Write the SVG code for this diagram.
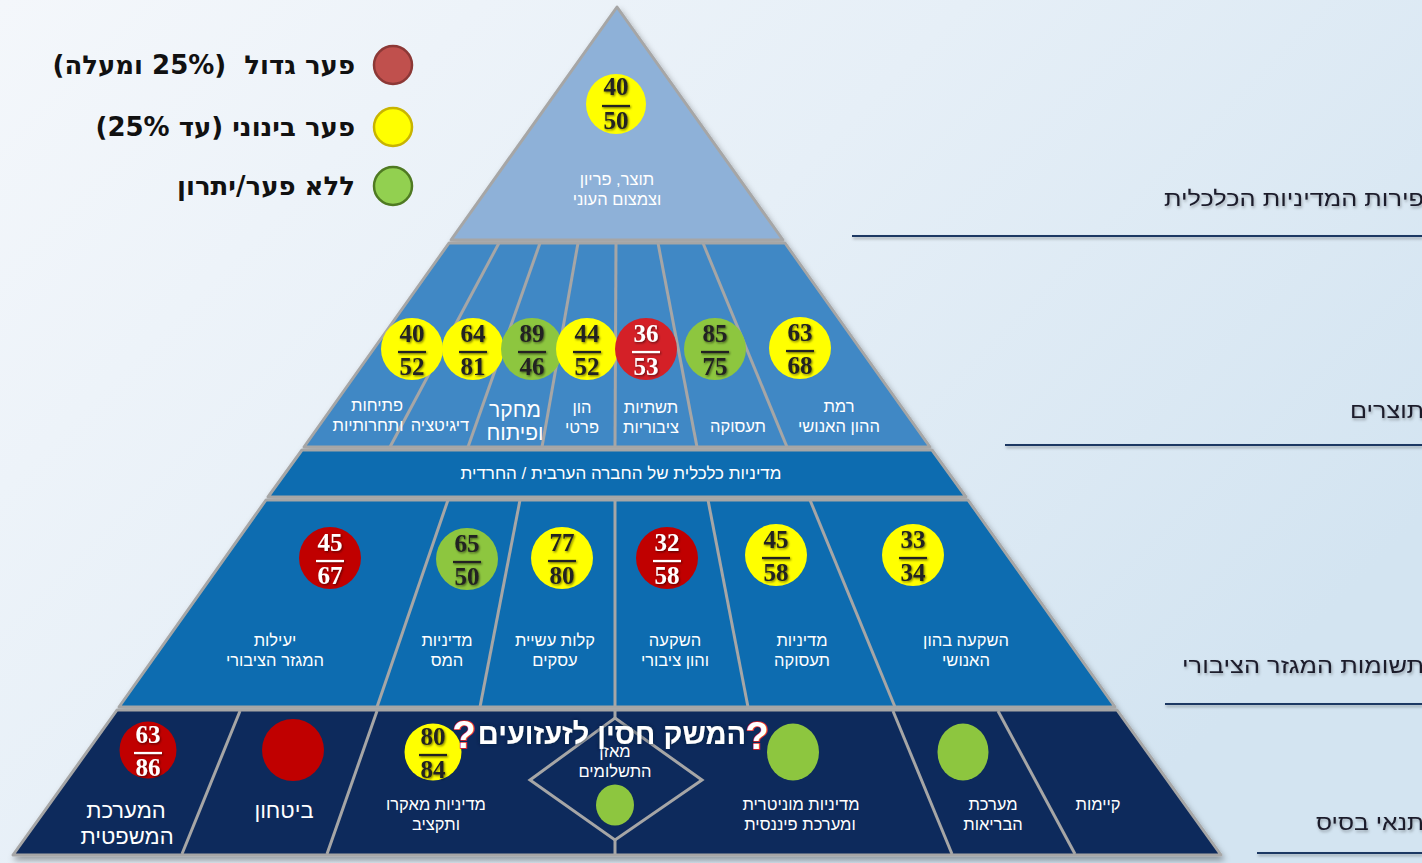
<svg xmlns="http://www.w3.org/2000/svg" width="1422" height="863" viewBox="0 0 1422 863">
<defs>
<linearGradient id="bg" x1="0" y1="0" x2="1" y2="0.6">
<stop offset="0" stop-color="#f4f7fb"/>
<stop offset="0.5" stop-color="#e6eff7"/>
<stop offset="1" stop-color="#d3e4f1"/>
</linearGradient>
<filter id="ts" x="-20%" y="-20%" width="140%" height="140%">
<feDropShadow dx="1" dy="1.2" stdDeviation="0.8" flood-color="#000" flood-opacity="0.55"/>
</filter>
<filter id="ls" x="-10%" y="-10%" width="120%" height="140%">
<feDropShadow dx="1" dy="2" stdDeviation="1.5" flood-color="#000" flood-opacity="0.3"/>
</filter>
<filter id="ps" x="-5%" y="-5%" width="110%" height="110%">
<feDropShadow dx="2" dy="4" stdDeviation="3" flood-color="#000" flood-opacity="0.35"/>
</filter>
<filter id="glow" x="-10%" y="-30%" width="120%" height="160%">
<feDropShadow dx="0" dy="0" stdDeviation="2" flood-color="#0a1a3a" flood-opacity="0.9"/>
</filter>
<style>
.lay{stroke:#a6a6a6;stroke-width:3;stroke-linejoin:round}
.div{stroke:#a6a6a6;stroke-width:3;fill:none}
.lbl{font-family:"Liberation Sans","DejaVu Sans",sans-serif;font-size:16.5px;fill:#fff;text-anchor:middle}
.big{font-size:21px}
.num{font-family:"Liberation Serif","DejaVu Serif",serif;font-weight:bold;font-size:25px;fill:#222;text-anchor:middle}
.w{fill:#fff}
.fl{stroke:#222;stroke-width:2.2}
.flw{stroke:#fff;stroke-width:2.2}
.yel{fill:#ffff00}
.grn{fill:#8dc63f}
.red{fill:#d42027}
.dred{fill:#c00000}
.leg{font-family:"DejaVu Sans","Liberation Sans",sans-serif;font-weight:bold;font-size:26px;fill:#111;white-space:pre}
.side{font-family:"Liberation Sans","DejaVu Sans",sans-serif;font-size:21px;fill:#1a1a2a}
.hl{stroke:#1f3864;stroke-width:2}
.q{font-family:"Liberation Sans","DejaVu Sans",sans-serif;font-weight:bold;font-size:38px;fill:#fff;stroke:#e02020;stroke-width:1.6;paint-order:stroke;text-anchor:middle}
</style>
</defs>
<rect width="1422" height="863" fill="url(#bg)"/>

<g id="legend">
<circle cx="393" cy="65" r="19" fill="#c0504d" stroke="#8c3836" stroke-width="2.5"/>
<circle cx="393" cy="127" r="19" fill="#ffff00" stroke="#c8b400" stroke-width="2.5"/>
<circle cx="393" cy="186" r="19" fill="#92d050" stroke="#4f7a22" stroke-width="2.5"/>
<text class="leg" x="355" y="74" direction="rtl" text-anchor="start">פער גדול  (25% ומעלה)</text>
<text class="leg" x="355" y="136" direction="rtl" text-anchor="start">פער בינוני (עד 25%)</text>
<text class="leg" x="355" y="195" direction="rtl" text-anchor="start">ללא פער/יתרון</text>
</g>

<g id="side-labels">
<g filter="url(#ls)">
<line class="hl" x1="852" y1="236" x2="1422" y2="236"/>
<line class="hl" x1="1005" y1="445" x2="1422" y2="445"/>
<line class="hl" x1="1165" y1="704" x2="1422" y2="704"/>
<line class="hl" x1="1257" y1="853" x2="1422" y2="853"/>
</g>
<g filter="url(#ls)">
<text class="side" x="1424" y="206" direction="rtl" text-anchor="start" textLength="260" lengthAdjust="spacingAndGlyphs">פירות המדיניות הכלכלית</text>
<text class="side" x="1424" y="418" direction="rtl" text-anchor="start" textLength="74" lengthAdjust="spacingAndGlyphs">תוצרים</text>
<text class="side" x="1424" y="673" direction="rtl" text-anchor="start" textLength="242" lengthAdjust="spacingAndGlyphs">תשומות המגזר הציבורי</text>
<text class="side" x="1424" y="830" direction="rtl" text-anchor="start" textLength="108" lengthAdjust="spacingAndGlyphs">תנאי בסיס</text>
</g>
</g>

<g id="pyramid-layers" filter="url(#ps)">
<polygon id="layer-top" class="lay" fill="#8eb1d8" points="617,7 783,240 451,240"/>
<polygon id="layer-products" class="lay" fill="#3f88c5" points="449,243 785,243 930,447 304,447"/>
<polygon id="layer-arab" class="lay" fill="#0a6cb0" points="302,450 932,450 966,497 268,497"/>
<polygon id="layer-inputs" class="lay" fill="#0a6cb0" points="266,500 968,500 1115,707 119,707"/>
<polygon id="layer-base" class="lay" fill="#0f2b5b" points="117,710 1117,710 1221,855 13,855"/>
</g>

<g id="dividers">
<line class="div" x1="499" y1="243" x2="390" y2="447"/>
<line class="div" x1="540" y1="243" x2="468" y2="447"/>
<line class="div" x1="578" y1="243" x2="542" y2="447"/>
<line class="div" x1="616" y1="243" x2="615" y2="447"/>
<line class="div" x1="658" y1="243" x2="697" y2="447"/>
<line class="div" x1="703" y1="243" x2="787" y2="447"/>
<line class="div" x1="448" y1="500" x2="377" y2="707"/>
<line class="div" x1="520" y1="500" x2="480" y2="707"/>
<line class="div" x1="615" y1="500" x2="615" y2="707"/>
<line class="div" x1="708" y1="500" x2="748" y2="707"/>
<line class="div" x1="810" y1="500" x2="895" y2="707"/>
<line class="div" stroke-width="4" x1="240" y1="711" x2="182" y2="854"/>
<line class="div" x1="377" y1="711" x2="327" y2="854"/>
<line class="div" x1="615" y1="711" x2="615" y2="718"/>
<polygon class="div" points="615,718 702,780 615,840 530,780"/>
<line class="div" x1="615" y1="840" x2="615" y2="854"/>
<line class="div" x1="893" y1="711" x2="952" y2="854"/>
<line class="div" x1="998" y1="711" x2="1075" y2="854"/>
</g>

<g id="n-output">
<g transform="translate(616,104)"><circle r="30" class="yel"/><g filter="url(#ts)"><text class="num" y="-9">40</text><line class="fl" x1="-14" x2="14" y1="2" y2="2"/><text class="num" y="25">50</text></g></g>
<text class="lbl" x="617" y="185">תוצר, פריון</text>
<text class="lbl" x="617" y="205">וצמצום העוני</text>
</g>

<g id="n-openness">
<g transform="translate(412,349)"><circle r="31" class="yel"/><g filter="url(#ts)"><text class="num" y="-7">40</text><line class="fl" x1="-14" x2="14" y1="3" y2="3"/><text class="num" y="26">52</text></g></g>
<text class="lbl" x="377" y="411">פתיחות</text>
<text class="lbl" x="368" y="431">ותחרותיות</text>
</g>
<g id="n-digital">
<g transform="translate(473,349)"><circle r="31" class="yel"/><g filter="url(#ts)"><text class="num" y="-7">64</text><line class="fl" x1="-14" x2="14" y1="3" y2="3"/><text class="num" y="26">81</text></g></g>
<text class="lbl" x="440" y="431">דיגיטציה</text>
</g>
<g id="n-rnd">
<g transform="translate(532,349)"><circle r="31" class="grn"/><g filter="url(#ts)"><text class="num" y="-7">89</text><line class="fl" x1="-14" x2="14" y1="3" y2="3"/><text class="num" y="26">46</text></g></g>
<text class="lbl big" x="515" y="417">מחקר</text>
<text class="lbl big" x="515" y="440">ופיתוח</text>
</g>
<g id="n-private">
<g transform="translate(587,349)"><circle r="31" class="yel"/><g filter="url(#ts)"><text class="num" y="-7">44</text><line class="fl" x1="-14" x2="14" y1="3" y2="3"/><text class="num" y="26">52</text></g></g>
<text class="lbl" x="582" y="413">הון</text>
<text class="lbl" x="582" y="433">פרטי</text>
</g>
<g id="n-infra">
<g transform="translate(646,349)"><circle r="31" class="red"/><g filter="url(#ts)"><text class="num w" y="-7">36</text><line class="flw" x1="-14" x2="14" y1="3" y2="3"/><text class="num w" y="26">53</text></g></g>
<text class="lbl" x="651" y="413">תשתיות</text>
<text class="lbl" x="651" y="433">ציבוריות</text>
</g>
<g id="n-employment">
<g transform="translate(715,349)"><circle r="31" class="grn"/><g filter="url(#ts)"><text class="num" y="-7">85</text><line class="fl" x1="-14" x2="14" y1="3" y2="3"/><text class="num" y="26">75</text></g></g>
<text class="lbl" x="738" y="432">תעסוקה</text>
</g>
<g id="n-human">
<g transform="translate(800,348)"><circle r="31" class="yel"/><g filter="url(#ts)"><text class="num" y="-7">63</text><line class="fl" x1="-14" x2="14" y1="3" y2="3"/><text class="num" y="26">68</text></g></g>
<text class="lbl" x="839" y="412">רמת</text>
<text class="lbl" x="839" y="432">ההון האנושי</text>
</g>

<g id="n-arab">
<text class="lbl" style="font-size:17px" x="621" y="479">מדיניות כלכלית של החברה הערבית / החרדית</text>
</g>

<g id="n-efficiency">
<g transform="translate(330,558)"><circle r="31" class="dred"/><g filter="url(#ts)"><text class="num w" y="-7">45</text><line class="flw" x1="-14" x2="14" y1="3" y2="3"/><text class="num w" y="26">67</text></g></g>
<text class="lbl" x="275" y="646">יעילות</text>
<text class="lbl" x="275" y="666">המגזר הציבורי</text>
</g>
<g id="n-tax">
<g transform="translate(467,559)"><circle r="31" class="grn"/><g filter="url(#ts)"><text class="num" y="-7">65</text><line class="fl" x1="-14" x2="14" y1="3" y2="3"/><text class="num" y="26">50</text></g></g>
<text class="lbl" x="447" y="646">מדיניות</text>
<text class="lbl" x="447" y="666">המס</text>
</g>
<g id="n-business">
<g transform="translate(562,558)"><circle r="31" class="yel"/><g filter="url(#ts)"><text class="num" y="-7">77</text><line class="fl" x1="-14" x2="14" y1="3" y2="3"/><text class="num" y="26">80</text></g></g>
<text class="lbl" x="555" y="646">קלות עשיית</text>
<text class="lbl" x="555" y="666">עסקים</text>
</g>
<g id="n-public-inv">
<g transform="translate(667,558)"><circle r="31" class="dred"/><g filter="url(#ts)"><text class="num w" y="-7">32</text><line class="flw" x1="-14" x2="14" y1="3" y2="3"/><text class="num w" y="26">58</text></g></g>
<text class="lbl" x="675" y="646">השקעה</text>
<text class="lbl" x="675" y="666">והון ציבורי</text>
</g>
<g id="n-emp-policy">
<g transform="translate(776,555)"><circle r="31" class="yel"/><g filter="url(#ts)"><text class="num" y="-7">45</text><line class="fl" x1="-14" x2="14" y1="3" y2="3"/><text class="num" y="26">58</text></g></g>
<text class="lbl" x="802" y="646">מדיניות</text>
<text class="lbl" x="802" y="666">תעסוקה</text>
</g>
<g id="n-human-inv">
<g transform="translate(913,555)"><circle r="31" class="yel"/><g filter="url(#ts)"><text class="num" y="-7">33</text><line class="fl" x1="-14" x2="14" y1="3" y2="3"/><text class="num" y="26">34</text></g></g>
<text class="lbl" x="966" y="646">השקעה בהון</text>
<text class="lbl" x="966" y="666">האנושי</text>
</g>

<g id="n-judicial">
<g transform="translate(148,750)"><circle r="28.5" class="dred"/><g filter="url(#ts)"><text class="num w" y="-7">63</text><line class="flw" x1="-14" x2="14" y1="3" y2="3"/><text class="num w" y="26">86</text></g></g>
<text class="lbl big" style="font-size:22px" x="126" y="818">המערכת</text>
<text class="lbl big" style="font-size:22px" x="127" y="844">המשפטית</text>
</g>
<g id="n-security">
<circle cx="293" cy="750" r="31" class="dred"/>
<text class="lbl big" style="font-size:22px" x="284" y="818">ביטחון</text>
</g>
<g id="n-macro">
<g transform="translate(433,752)"><circle r="28.5" class="yel"/><g filter="url(#ts)"><text class="num" y="-7">80</text><line class="fl" x1="-14" x2="14" y1="3" y2="3"/><text class="num" y="26">84</text></g></g>
<text class="lbl" x="436" y="810">מדיניות מאקרו</text>
<text class="lbl" x="436" y="830">ותקציב</text>
</g>
<g id="n-bop">
<text class="lbl" x="615" y="757">מאזן</text>
<text class="lbl" x="615" y="777">התשלומים</text>
<ellipse cx="615" cy="805" rx="19" ry="20.5" class="grn"/>
</g>
<g id="n-monetary">
<ellipse cx="793" cy="752" rx="26" ry="28.5" class="grn"/>
<text class="lbl" x="801" y="810">מדיניות מוניטרית</text>
<text class="lbl" x="800" y="830">ומערכת פיננסית</text>
</g>
<g id="n-health">
<ellipse cx="963" cy="752" rx="25.5" ry="28.5" class="grn"/>
<text class="lbl" x="993" y="810">מערכת</text>
<text class="lbl" x="993" y="830">הבריאות</text>
</g>
<g id="n-sustain">
<text class="lbl" x="1098" y="810">קיימות</text>
</g>

<g id="resilience">
<text x="612" y="744" filter="url(#glow)" style="font-family:'Liberation Sans','DejaVu Sans',sans-serif;font-weight:bold;font-size:29px;fill:#fff;text-anchor:middle">המשק חסין לזעזועים</text>
<text class="q" x="464" y="748">?</text>
<text class="q" x="757" y="749">?</text>
</g>
</svg>
